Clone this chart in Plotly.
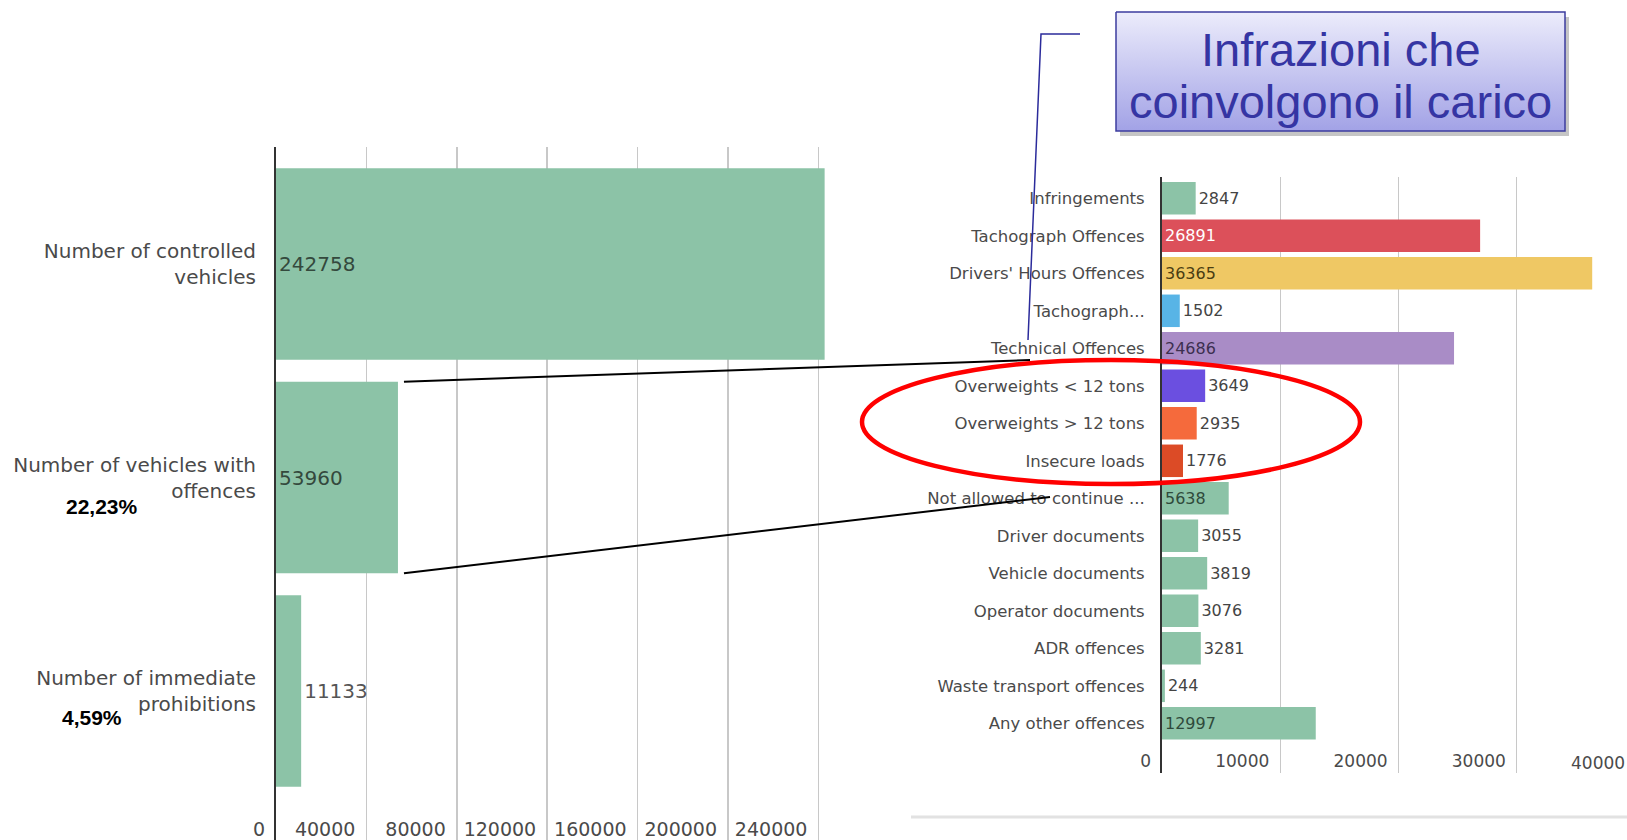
import plotly.graph_objects as go

# ---------------- data ----------------
left_categories = ["Number of controlled<br>vehicles",
                   "Number of vehicles with<br>offences",
                   "Number of immediate<br>prohibitions"]
left_values = [242758, 53960, 11133]
left_text_position = ["inside", "inside", "outside"]
left_tick_values = [0, 40000, 80000, 120000, 160000, 200000, 240000]
left_percent_labels = ["22,23%", "4,59%"]

right_categories = ["Infringements", "Tachograph Offences", "Drivers' Hours Offences",
                    "Tachograph...", "Technical Offences", "Overweights < 12 tons",
                    "Overweights > 12 tons", "Insecure loads", "Not allowed to continue ...",
                    "Driver documents", "Vehicle documents", "Operator documents",
                    "ADR offences", "Waste transport offences", "Any other offences"]
right_values = [2847, 26891, 36365, 1502, 24686, 3649, 2935, 1776, 5638,
                3055, 3819, 3076, 3281, 244, 12997]
right_text_position = ["outside", "inside", "inside", "outside", "inside", "outside",
                       "outside", "outside", "inside", "outside", "outside", "outside",
                       "outside", "outside", "inside"]
right_tick_values = [0, 10000, 20000, 30000]
right_extra_tick = "40000"
callout_lines = ["Infrazioni che", "coinvolgono il carico"]

# ---------------- styles ----------------
GREEN = "#8cc3a7"
right_colors = [GREEN, "#dc505a", "#efc864", "#58b4e6", "#a98cc6", "#6b4fe0",
                "#f56a3c", "#dc4b26", GREEN, GREEN, GREEN, GREEN, GREEN, GREEN, GREEN]
right_text_colors = ["#444444", "#ffffff", "#4a3d12", "#444444", "#3d2f4f", "#444444",
                     "#444444", "#444444", "#2f4a3b", "#444444", "#444444", "#444444",
                     "#444444", "#444444", "#2f4a3b"]
left_text_colors = ["#34493d", "#34493d", "#555555"]

W, H = 1627, 840
FONT = "DejaVu Sans"
LABEL_COLOR = "#4a4a4a"


def px_x(x):
    return x / W


def px_y(y):
    return 1 - y / H


# left chart geometry (pixels)
L_AXIS_X, L_RIGHT_X = 276, 840
L_TOP, L_BOTTOM = 147, 840
L_PX_PER_UNIT = 0.00226
L_ROW0, L_ROW_STEP = 264, 213.5
# right chart geometry (pixels)
R_AXIS_X, R_RIGHT_X = 1162, 1627
R_TOP, R_BOTTOM = 177, 773
R_PX_PER_UNIT = 0.01183
R_ROW0, R_ROW_STEP = 198.3, 37.5

fig = go.Figure()

fig.add_trace(go.Bar(
    x=left_values, y=left_categories, orientation="h",
    marker=dict(color=GREEN, line=dict(width=0)),
    text=[str(v) for v in left_values], textposition=left_text_position,
    insidetextanchor="start", textangle=0, constraintext="none",
    textfont=dict(family=FONT, size=20, color=left_text_colors),
    width=0.898,
    xaxis="x", yaxis="y", hoverinfo="skip", cliponaxis=False,
))

fig.add_trace(go.Bar(
    x=right_values, y=right_categories, orientation="h",
    marker=dict(color=right_colors, line=dict(width=0)),
    text=[str(v) for v in right_values], textposition=right_text_position,
    insidetextanchor="start", textangle=0, constraintext="none",
    textfont=dict(family=FONT, size=16, color=right_text_colors),
    width=0.867,
    xaxis="x2", yaxis="y2", hoverinfo="skip", cliponaxis=False,
))

# callout box (decoration) in pixel overlay axes
bx0, by0, bx1, by1 = 1116, 12, 1565, 131
fig.add_trace(go.Scatter(
    x=[bx0, bx1, bx1, bx0, bx0], y=[by0, by0, by1, by1, by0],
    mode="lines", fill="toself",
    fillgradient=dict(type="vertical",
                      colorscale=[[0, "#a2a2e6"], [1, "#ececfb"]]),
    line=dict(color="#3c3c9e", width=1.5),
    xaxis="x3", yaxis="y3", hoverinfo="skip",
))

fig.update_layout(
    template="none",
    width=W, height=H, autosize=False,
    margin=dict(l=0, r=0, t=0, b=0, pad=0),
    paper_bgcolor="white", plot_bgcolor="rgba(0,0,0,0)",
    showlegend=False,
    font=dict(family=FONT, color=LABEL_COLOR),
    xaxis=dict(domain=[px_x(L_AXIS_X), px_x(L_RIGHT_X)],
               range=[0, (L_RIGHT_X - L_AXIS_X) / L_PX_PER_UNIT],
               tickvals=left_tick_values, ticktext=[str(v) for v in left_tick_values],
               ticklabelposition="inside left", ticklabeloverflow="allow",
               ticklabelshift=-11, ticklabelstandoff=-6,
               showgrid=True, gridcolor="#c8c8c8", gridwidth=1.5,
               zeroline=False, showline=False, ticks="", automargin=False,
               tickfont=dict(family=FONT, size=19, color=LABEL_COLOR),
               anchor="y", fixedrange=True),
    yaxis=dict(domain=[px_y(L_BOTTOM), px_y(L_TOP)],
               type="category", categoryorder="array", categoryarray=left_categories,
               range=[(L_BOTTOM - L_ROW0) / L_ROW_STEP, (L_TOP - L_ROW0) / L_ROW_STEP],
               showline=True, linecolor="#333333", linewidth=2,
               showgrid=False, zeroline=False, ticks="", automargin=False,
               ticklabelstandoff=14,
               tickfont=dict(family=FONT, size=20, color=LABEL_COLOR),
               anchor="x", fixedrange=True),
    xaxis2=dict(domain=[px_x(R_AXIS_X), 1.0],
                range=[0, (R_RIGHT_X - R_AXIS_X) / R_PX_PER_UNIT],
                tickvals=right_tick_values, ticktext=[str(v) for v in right_tick_values],
                ticklabelposition="inside left", ticklabeloverflow="allow",
                ticklabelshift=-11, ticklabelstandoff=-3,
                showgrid=True, gridcolor="#c8c8c8", gridwidth=1,
                zeroline=False, showline=False, ticks="", automargin=False,
                tickfont=dict(family=FONT, size=17, color=LABEL_COLOR),
                anchor="y2", fixedrange=True),
    yaxis2=dict(domain=[px_y(R_BOTTOM), px_y(R_TOP)],
                type="category", categoryorder="array", categoryarray=right_categories,
                range=[(R_BOTTOM - R_ROW0) / R_ROW_STEP, (R_TOP - R_ROW0) / R_ROW_STEP],
                showline=True, linecolor="#333333", linewidth=2,
                showgrid=False, zeroline=False, ticks="", automargin=False,
                ticklabelstandoff=12,
                tickfont=dict(family=FONT, size=16.5, color=LABEL_COLOR),
                anchor="x2", fixedrange=True),
    xaxis3=dict(domain=[0, 1], range=[0, W], visible=False, anchor="y3",
                fixedrange=True, automargin=False),
    yaxis3=dict(domain=[0, 1], range=[H, 0], visible=False, anchor="x3",
                fixedrange=True, automargin=False),
)

bar2_end = L_AXIS_X + left_values[1] * L_PX_PER_UNIT
bar2_top = L_ROW0 + L_ROW_STEP - 0.898 * L_ROW_STEP / 2
bar2_bottom = L_ROW0 + L_ROW_STEP + 0.898 * L_ROW_STEP / 2

shapes = []
# shadow of callout box
shapes.append(dict(type="rect", xref="x3", yref="y3", x0=bx0 + 4, y0=by0 + 5, x1=bx1 + 4, y1=by1 + 5,
                   fillcolor="rgba(90,90,90,0.35)", line=dict(width=0), layer="below"))
# separator line at bottom right
shapes.append(dict(type="line", xref="x3", yref="y3", x0=911, y0=817, x1=1627, y1=817,
                   line=dict(color="#e2e2e2", width=3)))
# connector lines from left bar to right chart
shapes.append(dict(type="line", xref="x3", yref="y3", x0=bar2_end + 6, y0=bar2_top, x1=1030, y1=360,
                   line=dict(color="black", width=2)))
shapes.append(dict(type="line", xref="x3", yref="y3", x0=bar2_end + 6, y0=bar2_bottom, x1=1050, y1=497,
                   line=dict(color="black", width=2)))
# callout pointer
shapes.append(dict(type="path", xref="x3", yref="y3", path="M 1080 34 L 1041 34 L 1028 340",
                   line=dict(color="#2b2b9b", width=1.5)))
# red ellipse
shapes.append(dict(type="circle", xref="x3", yref="y3", x0=862, y0=360, x1=1360, y1=484,
                   line=dict(color="#ff0000", width=4.5)))
fig.update_layout(shapes=shapes)

annotations = [
    dict(text="<b>%s</b>" % left_percent_labels[0], xref="x3", yref="y3", x=102, y=506,
         showarrow=False, font=dict(family="Liberation Sans", size=21, color="black")),
    dict(text="<b>%s</b>" % left_percent_labels[1], xref="x3", yref="y3", x=92, y=717,
         showarrow=False, font=dict(family="Liberation Sans", size=21, color="black")),
    dict(text=callout_lines[0], xref="x3", yref="y3", x=(bx0 + bx1) / 2, y=49,
         showarrow=False, font=dict(family="Liberation Sans", size=47, color="#3535a3")),
    dict(text=callout_lines[1], xref="x3", yref="y3", x=(bx0 + bx1) / 2, y=101,
         showarrow=False, font=dict(family="Liberation Sans", size=47, color="#3535a3")),
    dict(text=right_extra_tick, xref="paper", yref="y3", x=1, y=763, xanchor="right",
         showarrow=False, font=dict(family=FONT, size=17, color=LABEL_COLOR)),
]
fig.update_layout(annotations=annotations)

fig.write_html("out.html",
               config={"displayModeBar": False, "staticPlot": True},
               post_script="document.body.style.margin='0px';"
                           "document.body.style.overflow='hidden';")
